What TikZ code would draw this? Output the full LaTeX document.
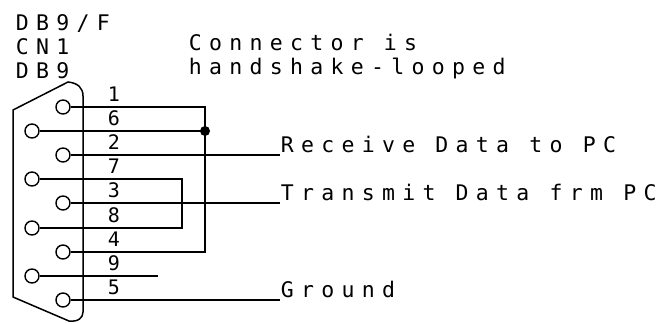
\documentclass[tikz,border=0pt]{standalone}
\usepackage{fontspec}
\newfontfamily\pixfont[LetterSpace=34]{DejaVu Sans Mono}
\newfontfamily\numfont{DejaVu Sans Mono}
\begin{document}
\begin{tikzpicture}[x=1bp,y=-1bp, line width=1.5bp,
  pin/.style={circle, draw, minimum size=14bp, inner sep=0pt, line width=1.4bp},
  lbl/.style={font=\pixfont\fontsize{21.5bp}{24bp}\selectfont, anchor=base west, inner sep=0pt},
  num/.style={font=\numfont\fontsize{20bp}{20bp}\selectfont, anchor=base, inner sep=0pt},
  jdot/.style={circle, fill, minimum size=10bp, inner sep=0pt}]
\useasboundingbox (0,0) rectangle (669,323);
% shell
\draw (68,82) .. controls (78,83) and (83,88) .. (83,96) -- (83,312)
      .. controls (83,318) and (78,322) .. (69,321) -- (13,297) -- (13,110) -- cycle;
% titles
\node[lbl] (t1) at (15,30) {DB9/F};
\node[lbl] (t2) at (15,54) {CN1};
\node[lbl] (t3) at (15,78) {DB9};
\node[lbl] (t4) at (188,50) {Connector is};
\node[lbl] (t5) at (188,74) {handshake-looped};
% pins
\node[pin] (p1) at (63,107) {};
\node[pin] (p6) at (32,131) {};
\node[pin] (p2) at (63,155) {};
\node[pin] (p7) at (32,179) {};
\node[pin] (p3) at (63,203) {};
\node[pin] (p8) at (32,228) {};
\node[pin] (p4) at (63,252) {};
\node[pin] (p9) at (32,276) {};
\node[pin] (p5) at (63,300) {};
% pin numbers
\node[num] (n1) at (114,101) {1};
\node[num] (n6) at (114,125) {6};
\node[num] (n2) at (114,149) {2};
\node[num] (n7) at (114,173) {7};
\node[num] (n3) at (114,197) {3};
\node[num] (n8) at (114,222) {8};
\node[num] (n4) at (114,246) {4};
\node[num] (n9) at (114,270) {9};
\node[num] (n5) at (114,294) {5};
% signal labels
\node[lbl] (rx) at (280,152) {Receive Data to PC};
\node[lbl] (tx) at (280,200) {Transmit Data frm PC};
\node[lbl] (gnd) at (280,297) {Ground};
% junction and corners
\node[jdot] (j) at (205,131) {};
\coordinate (c78) at (182,228);
\coordinate (e9) at (158,276);
% wires
\draw (p1.east) -| (j.center);
\draw (p6.east) -- (j.center);
\draw (p4.east) -| (j.center);
\draw (p7.east) -| (c78) -- (p8.east);
\draw (p2.east) -- (p2.east -| rx.west);
\draw (p3.east) -- (p3.east -| tx.west);
\draw (p5.east) -- (p5.east -| gnd.west);
\draw (p9.east) -- (e9);
\end{tikzpicture}
\end{document}
